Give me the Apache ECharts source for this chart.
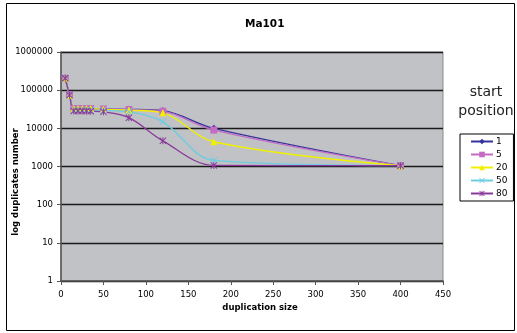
<!DOCTYPE html>
<html><head><meta charset="utf-8">
<script src="https://cdn.jsdelivr.net/npm/echarts@6/dist/echarts.min.js"></script>
<style>html,body{margin:0;padding:0;background:#fff}#c{width:517px;height:333px}</style>
</head><body><div id="c"></div>
<script>
const xValues = [5,10,15,20,25,30,35,50,80,120,180,400];
const seriesNames = ['1','5','20','50','80'];
const s1  = [205000,75000,33000,33000,33000,33000,33000,32000,31500,29000,10000,1050];
const s5  = [205000,75000,33000,33000,33000,33000,33000,32000,31000,28000,9000,1050];
const s20 = [205000,75000,33000,33000,33000,33000,33000,31500,30000,25500,4450,1050];
const s50 = [205000,75000,30000,30000,30000,30000,30000,29500,27000,14800,1450,1050];
const s80 = [205000,75000,28500,28500,28500,28500,28000,27000,19000,4700,1070,1050];
const yTicks = [1,10,100,1000,10000,100000,1000000];

const colors = ['#34349a','#c46cc4','#f0f000','#6ccde0','#8a3a9a'];
const xPath = 'path://M0,1L1,0L5,4L9,0L10,1L6,5L10,9L9,10L5,6L1,10L0,9L4,5Z';
const starPath = 'path://M0,1L1,0L5,4L9,0L10,1L6,5L10,9L9,10L5,6L1,10L0,9L4,5ZM4.3,0L5.7,0L5.7,10L4.3,10Z';
const symbols = ['diamond','rect','triangle',xPath,starPath];
const sizes = [7,7,7,7,7];
const allData = [s1,s5,s20,s50,s80];

const chart = echarts.init(document.getElementById('c'));
const font = 'DejaVu Sans';
chart.setOption({
  animation:false,
  backgroundColor:'#ffffff',
  title:{text:'Ma101',left:240,top:14,textStyle:{fontFamily:font,fontSize:10.5,fontWeight:'bold',color:'#000'}},
  grid:{left:61,top:52,width:382,height:229,show:true,backgroundColor:'#c1c2c6',borderColor:'#8a8a8a',borderWidth:1},
  legend:{
    orient:'vertical',left:460,top:134,
    data:seriesNames,
    backgroundColor:'#ffffff',borderColor:'#000',borderWidth:1,
    padding:[3,6,3,10],itemGap:4,itemWidth:22,itemHeight:7,
    textStyle:{fontFamily:font,fontSize:9,lineHeight:9,color:'#000',padding:[0,0,0,-2]}
  },
  xAxis:{type:'value',min:0,max:450,interval:50,
    axisLine:{show:true,lineStyle:{color:'#555',width:1.5}},
    axisTick:{show:true,length:4,lineStyle:{color:'#555'}},
    axisLabel:{fontFamily:font,fontSize:8.5,color:'#000',margin:9},
    splitLine:{show:false}},
  yAxis:{type:'log',logBase:10,min:1,max:1000000,
    axisLine:{show:true,lineStyle:{color:'#555',width:1.5}},
    axisTick:{show:true,length:4,lineStyle:{color:'#555'}},
    axisLabel:{fontFamily:font,fontSize:8.5,color:'#000',margin:8,formatter:v=>String(Math.round(v))},
    splitLine:{show:true,lineStyle:{color:'#1a1a1a',width:1.3}}},
  graphic:[
    {type:'rect',shape:{x:6.5,y:3.5,width:508,height:327},style:{fill:'none',stroke:'#000',lineWidth:1},z:-1},
    {type:'text',x:260,y:308,style:{text:'duplication size',font:'bold 8.5px "DejaVu Sans"',fill:'#000',textAlign:'center',textVerticalAlign:'middle'}},
    {type:'text',x:16,y:182,rotation:Math.PI/2,style:{text:'log duplicates number',font:'bold 8.5px "DejaVu Sans"',fill:'#000',textAlign:'center',textVerticalAlign:'middle'}},
    {type:'text',x:486,y:92,style:{text:'start',font:'14px "DejaVu Sans"',fill:'#222',textAlign:'center',textVerticalAlign:'middle'}},
    {type:'text',x:486,y:111,style:{text:'position',font:'14px "DejaVu Sans"',fill:'#222',textAlign:'center',textVerticalAlign:'middle'}}
  ],
  series: seriesNames.map((n,i)=>({
    name:n,type:'line',smooth:0.35,
    data:xValues.map((x,j)=>[x,allData[i][j]]),
    symbol:symbols[i],symbolSize:sizes[i],showSymbol:true,
    lineStyle:{color:colors[i],width:1.3},
    itemStyle:{color:colors[i],borderWidth:0}
  }))
});
</script></body></html>
